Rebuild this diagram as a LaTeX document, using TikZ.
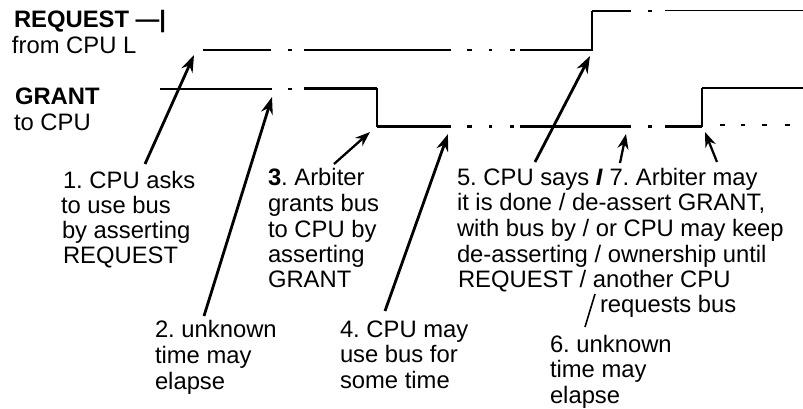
\documentclass[tikz,border=0pt]{standalone}
\usepackage{fontspec}
\setmainfont{Liberation Sans}
\usetikzlibrary{arrows.meta}
\frenchspacing
\tikzset{
  lbl/.style={anchor=base west,inner sep=0pt,outer sep=0pt,font=\fontsize{23.8}{25}\selectfont\frenchspacing,text=black},
  sigthick/.style={line width=2.5pt,black},
  sigthin/.style={line width=1.7pt,black},
  callout/.style={line width=2.8pt,black,-{Stealth[length=17pt,width=12pt]}},
  calloutthin/.style={line width=2.3pt,black,-{Stealth[length=15pt,width=11pt]}},
  leader/.style={line width=1.6pt,black}
}
\begin{document}
\begin{tikzpicture}[x=1pt,y=-1pt]
\useasboundingbox (0,0) rectangle (803,408);
% headings
\node[lbl] (reqh) at (14,27) {\textbf{REQUEST —|}};
\node[lbl] (reqs) at (12,53) {from CPU L};
\node[lbl] (grah) at (15,104) {\textbf{GRANT}};
\node[lbl] (gras) at (14,130) {to CPU};
% REQUEST waveform
\draw[sigthick] (203,50) -- (271,50) (288,50) -- (292,50) (304,50) -- (451,50)
  (467,50) -- (472,50) (489,50) -- (492,50) (510,50) -- (515,50);
\draw[sigthick] (520,50) -- (592,50);
\draw[sigthin] (592,50.5) -- (592,11);
\draw[sigthick] (592,11) -- (631,11) (648,11) -- (652,11);
\draw[sigthin] (665,10.5) -- (803,10.5);
% GRANT waveform
\draw[sigthin] (160,89) -- (272,89) (288,89) -- (292,89);
\draw[sigthick] (304,88.5) -- (377,88.5);
\draw[sigthin] (377,88) -- (377,126.5);
\draw[sigthick] (377,126.5) -- (451,126.5) (467,126.5) -- (472,126.5) (489,126.5) -- (492,126.5)
  (510,126.5) -- (514,126.5) (520,126.5) -- (631,126.5) (648,126.5) -- (652,126.5) (665,126.5) -- (702,126.5);
\draw[sigthin] (702,127) -- (702,88);
\draw[sigthick] (702,88) -- (803,88);
\draw[sigthick] (720,125) -- (725,125) (741,125) -- (745,125) (762,125) -- (767,125) (785,125) -- (790,125);
% step 1
\node[lbl] (a1) at (63,188) {1. CPU asks};
\node[lbl] (a2) at (61,213) {to use bus};
\node[lbl] (a3) at (62,238) {by asserting};
\node[lbl] (a4) at (63,263) {REQUEST};
% step 2
\node[lbl] (b1) at (155,337) {2. unknown};
\node[lbl] (b2) at (155,363) {time may};
\node[lbl] (b3) at (155,389) {elapse};
% step 3
\node[lbl] (c1) at (268,185) {\textbf{3}. Arbiter};
\node[lbl] (c2) at (268,211) {grants bus};
\node[lbl] (c3) at (268,237) {to CPU by};
\node[lbl] (c4) at (268,262) {asserting};
\node[lbl] (c5) at (268,287) {GRANT};
% step 4
\node[lbl] (d1) at (340,337) {4. CPU may};
\node[lbl] (d2) at (340,362) {use bus for};
\node[lbl] (d3) at (340,388) {some time};
% steps 5 and 7
\node[lbl] (e1) at (457,185) {5. CPU says \textbf{\textit{I}} 7. Arbiter may};
\node[lbl] (e2) at (457,210) {it is done / de-assert GRANT,};
\node[lbl] (e3) at (457,236) {with bus by / or CPU may keep};
\node[lbl] (e4) at (457,262) {de-asserting / ownership until};
\node[lbl] (e5) at (458,287) {REQUEST / another CPU};
\node[lbl] (e6) at (600,312) {requests bus};
% step 6
\node[lbl] (f1) at (550,352) {6. unknown};
\node[lbl] (f2) at (550,377) {time may};
\node[lbl] (f3) at (550,403) {elapse};
% callouts
\coordinate (s1) at (145,164); \coordinate (t1) at (194,55);
\coordinate (s2) at (204,316); \coordinate (t2) at (272,97);
\coordinate (s3) at (334,164); \coordinate (t3) at (370,132);
\coordinate (s4) at (385,311); \coordinate (t4) at (448,134);
\coordinate (s5) at (535,162); \coordinate (t5) at (590,56);
\coordinate (s7) at (620,163); \coordinate (t7) at (626,134);
\coordinate (s8) at (717,162); \coordinate (t8) at (705,132);
\coordinate (s6) at (585,327); \coordinate (t6) at (595,294);
\draw[callout] (s1) -- (t1);
\draw[callout] (s2) -- (t2);
\draw[calloutthin] (s3) -- (t3);
\draw[callout] (s4) -- (t4);
\draw[callout] (s5) -- (t5);
\draw[calloutthin] (s7) -- (t7);
\draw[calloutthin] (s8) -- (t8);
\draw[leader] (s6) -- (t6);
\end{tikzpicture}
\end{document}
